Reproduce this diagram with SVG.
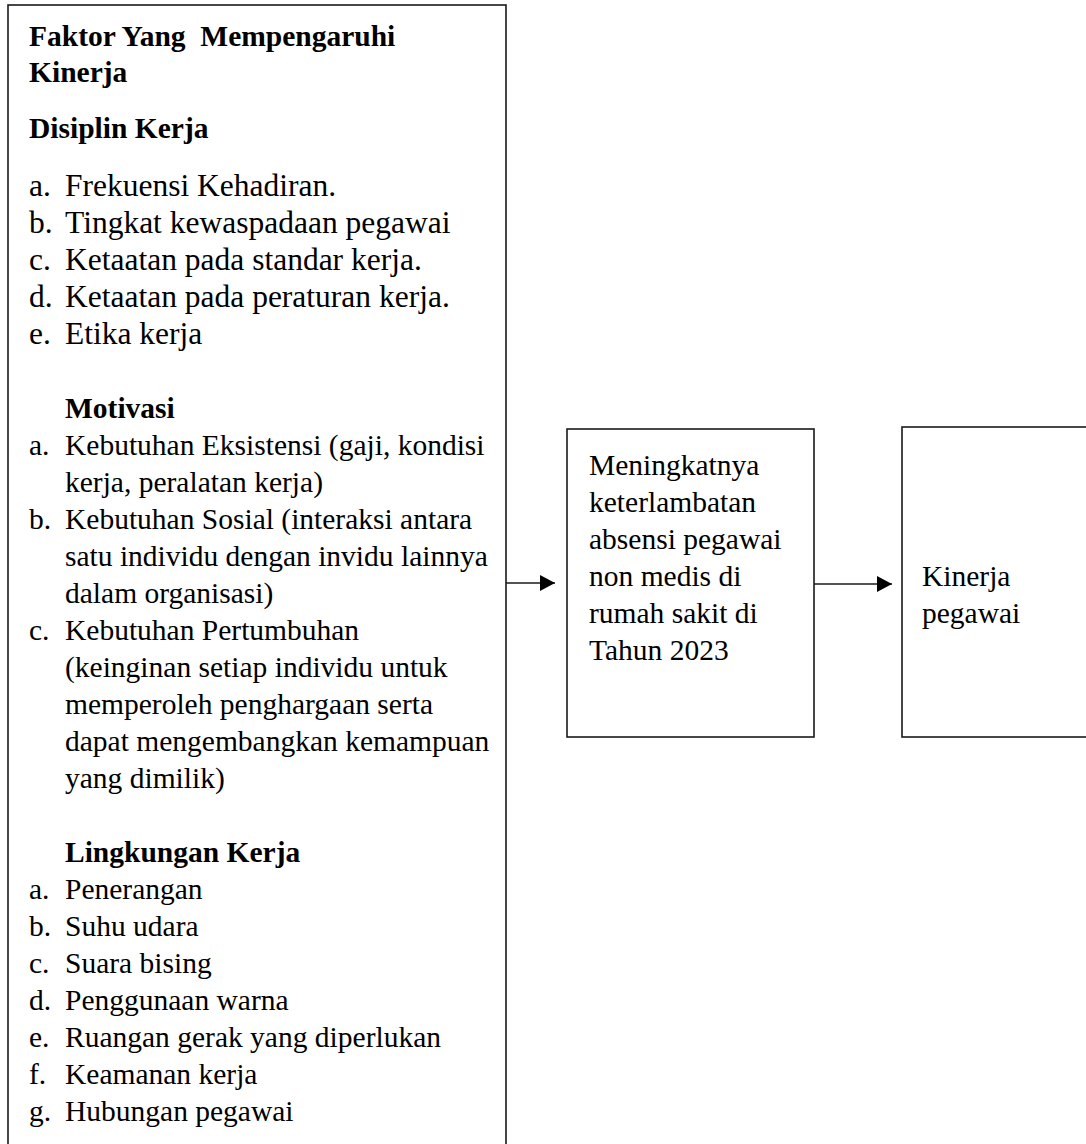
<svg xmlns="http://www.w3.org/2000/svg" width="1086" height="1144" viewBox="0 0 1086 1144">
  <defs>
    <style>
      .box { fill: #ffffff; stroke: #1a1a1a; stroke-width: 1.6; }
      text { font-family: "Liberation Serif", "Times New Roman", serif; font-size: 29.5px; fill: #000000; white-space: pre; }
      .b { font-weight: bold; }
      .l { font-size: 31.5px; }
      .conn { stroke: #1a1a1a; stroke-width: 1.6; fill: none; }
    </style>
    <marker id="arrow" markerWidth="16" markerHeight="16" refX="15" refY="8" orient="auto" markerUnits="userSpaceOnUse">
      <path d="M0,0 L15,8 L0,16 Z" fill="#000000"/>
    </marker>
  </defs>
  <rect width="1086" height="1144" fill="#ffffff"/>

  <g id="factors">
    <rect class="box" x="8" y="5" width="498" height="1150"/>
    <text class="b" x="29" y="46">Faktor Yang  Mempengaruhi</text>
    <text class="b" x="29" y="82">Kinerja</text>
    <text class="b" x="29" y="138">Disiplin Kerja</text>
    <text class="l" x="29" y="196">a.</text><text class="l" x="65" y="196">Frekuensi Kehadiran.</text>
    <text class="l" x="29" y="233">b.</text><text class="l" x="65" y="233">Tingkat kewaspadaan pegawai</text>
    <text class="l" x="29" y="270">c.</text><text class="l" x="65" y="270">Ketaatan pada standar kerja.</text>
    <text class="l" x="29" y="307">d.</text><text class="l" x="65" y="307">Ketaatan pada peraturan kerja.</text>
    <text class="l" x="29" y="344">e.</text><text class="l" x="65" y="344">Etika kerja</text>

    <text class="b" x="65" y="418">Motivasi</text>
    <text x="29" y="455">a.</text><text x="65" y="455">Kebutuhan Eksistensi (gaji, kondisi</text>
    <text x="65" y="492">kerja, peralatan kerja)</text>
    <text x="29" y="529">b.</text><text x="65" y="529">Kebutuhan Sosial (interaksi antara</text>
    <text x="65" y="566">satu individu dengan invidu lainnya</text>
    <text x="65" y="603">dalam organisasi)</text>
    <text x="29" y="640">c.</text><text x="65" y="640">Kebutuhan Pertumbuhan</text>
    <text x="65" y="677">(keinginan setiap individu untuk</text>
    <text x="65" y="714">memperoleh penghargaan serta</text>
    <text x="65" y="751">dapat mengembangkan kemampuan</text>
    <text x="65" y="788">yang dimilik)</text>

    <text class="b" x="65" y="862">Lingkungan Kerja</text>
    <text x="29" y="899">a.</text><text x="65" y="899">Penerangan</text>
    <text x="29" y="936">b.</text><text x="65" y="936">Suhu udara</text>
    <text x="29" y="973">c.</text><text x="65" y="973">Suara bising</text>
    <text x="29" y="1010">d.</text><text x="65" y="1010">Penggunaan warna</text>
    <text x="29" y="1047">e.</text><text x="65" y="1047">Ruangan gerak yang diperlukan</text>
    <text x="29" y="1084">f.</text><text x="65" y="1084">Keamanan kerja</text>
    <text x="29" y="1121">g.</text><text x="65" y="1121">Hubungan pegawai</text>
  </g>

  <g id="lateness">
    <rect class="box" x="567" y="429" width="247" height="308"/>
    <text x="589" y="475">Meningkatnya</text>
    <text x="589" y="512">keterlambatan</text>
    <text x="589" y="549">absensi pegawai</text>
    <text x="589" y="586">non medis di</text>
    <text x="589" y="623">rumah sakit di</text>
    <text x="589" y="660">Tahun 2023</text>
  </g>

  <g id="performance">
    <rect class="box" x="902" y="427" width="200" height="310"/>
    <text x="922" y="586">Kinerja</text>
    <text x="922" y="623">pegawai</text>
  </g>

  <g id="connectors">
    <line class="conn" x1="506" y1="583" x2="555" y2="583" marker-end="url(#arrow)"/>
    <line class="conn" x1="814" y1="584" x2="892" y2="584" marker-end="url(#arrow)"/>
  </g>
</svg>
